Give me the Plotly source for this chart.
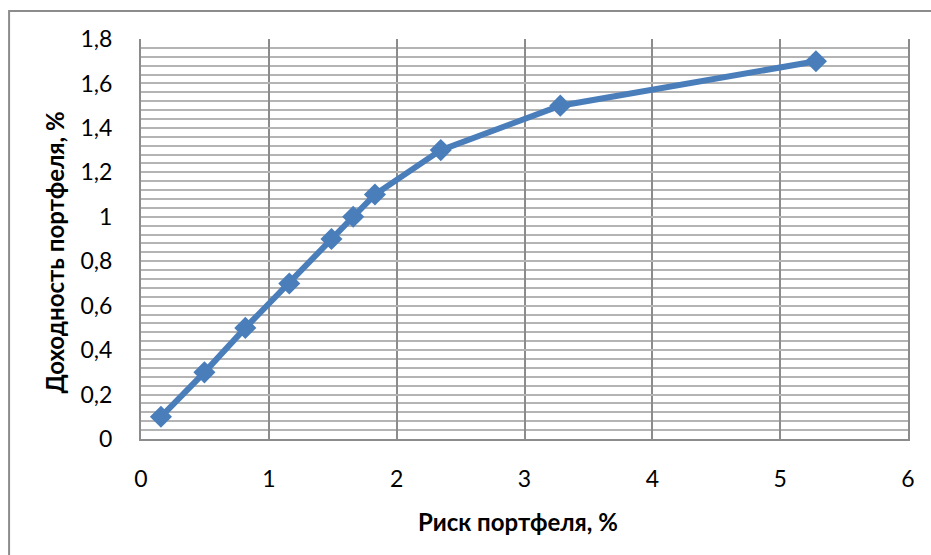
import plotly.graph_objects as go

# Data
risk = [0.156, 0.496, 0.816, 1.16, 1.49, 1.66, 1.83, 2.345, 3.28, 5.28]
ret = [0.1, 0.3, 0.5, 0.7, 0.9, 1.0, 1.1, 1.3, 1.5, 1.7]

x_tickvals = [0, 1, 2, 3, 4, 5, 6]
x_ticktext = ["0", "1", "2", "3", "4", "5", "6"]
y_tickvals = [0, 0.2, 0.4, 0.6, 0.8, 1.0, 1.2, 1.4, 1.6, 1.8]
y_ticktext = ["0", "0,2", "0,4", "0,6", "0,8", "1", "1,2", "1,4", "1,6", "1,8"]

x_title = "Риск портфеля, %"
y_title = "Доходность портфеля, %"

FONT = "Lato, 'Open Sans', sans-serif"
BLUE = "#4a7ebb"

fig = go.Figure()
fig.add_trace(go.Scatter(
    x=risk, y=ret, mode="lines+markers",
    line=dict(color=BLUE, width=6),
    marker=dict(symbol="diamond", size=17, color=BLUE),
    showlegend=False, hoverinfo="skip",
))

fig.update_layout(
    width=931, height=555,
    margin=dict(l=141, r=23, t=39, b=116),
    paper_bgcolor="white", plot_bgcolor="white",
    font=dict(family=FONT, size=23, color="black"),
    xaxis=dict(
        range=[0, 6], tickvals=x_tickvals, ticktext=x_ticktext,
        showgrid=True, gridcolor="#8c8c8c", gridwidth=2,
        showline=True, linecolor="#8c8c8c", linewidth=2,
        zeroline=False, ticks="", ticklabelstandoff=18,
    ),
    yaxis=dict(
        range=[0, 1.8], tickvals=y_tickvals, ticktext=y_ticktext,
        showgrid=True, gridcolor="#b4b4b4", gridwidth=2,
        minor=dict(dtick=0.04, tick0=0, showgrid=True, gridcolor="#b4b4b4", gridwidth=2),
        showline=True, mirror=True, linecolor="#8c8c8c", linewidth=2,
        zeroline=False, ticks="", ticklabelstandoff=22,
    ),
    annotations=[
        dict(text="<b>" + x_title + "</b>", xref="paper", yref="paper",
             x=0.4915, y=-0.205, xanchor="center", yanchor="middle",
             showarrow=False, font=dict(size=24)),
        dict(text="<b>" + y_title + "</b>", xref="paper", yref="paper",
             x=-0.1121, y=0.466, xanchor="center", yanchor="middle",
             textangle=-90, showarrow=False, font=dict(size=24)),
    ],
    shapes=[dict(type="rect", xref="paper", yref="paper",
                 x0=-0.172, x1=1.04, y0=-0.31, y1=1.07,
                 line=dict(color="#8c8c8c", width=2), fillcolor="rgba(0,0,0,0)",
                 layer="below")],
)

fig.write_html("out.html")
